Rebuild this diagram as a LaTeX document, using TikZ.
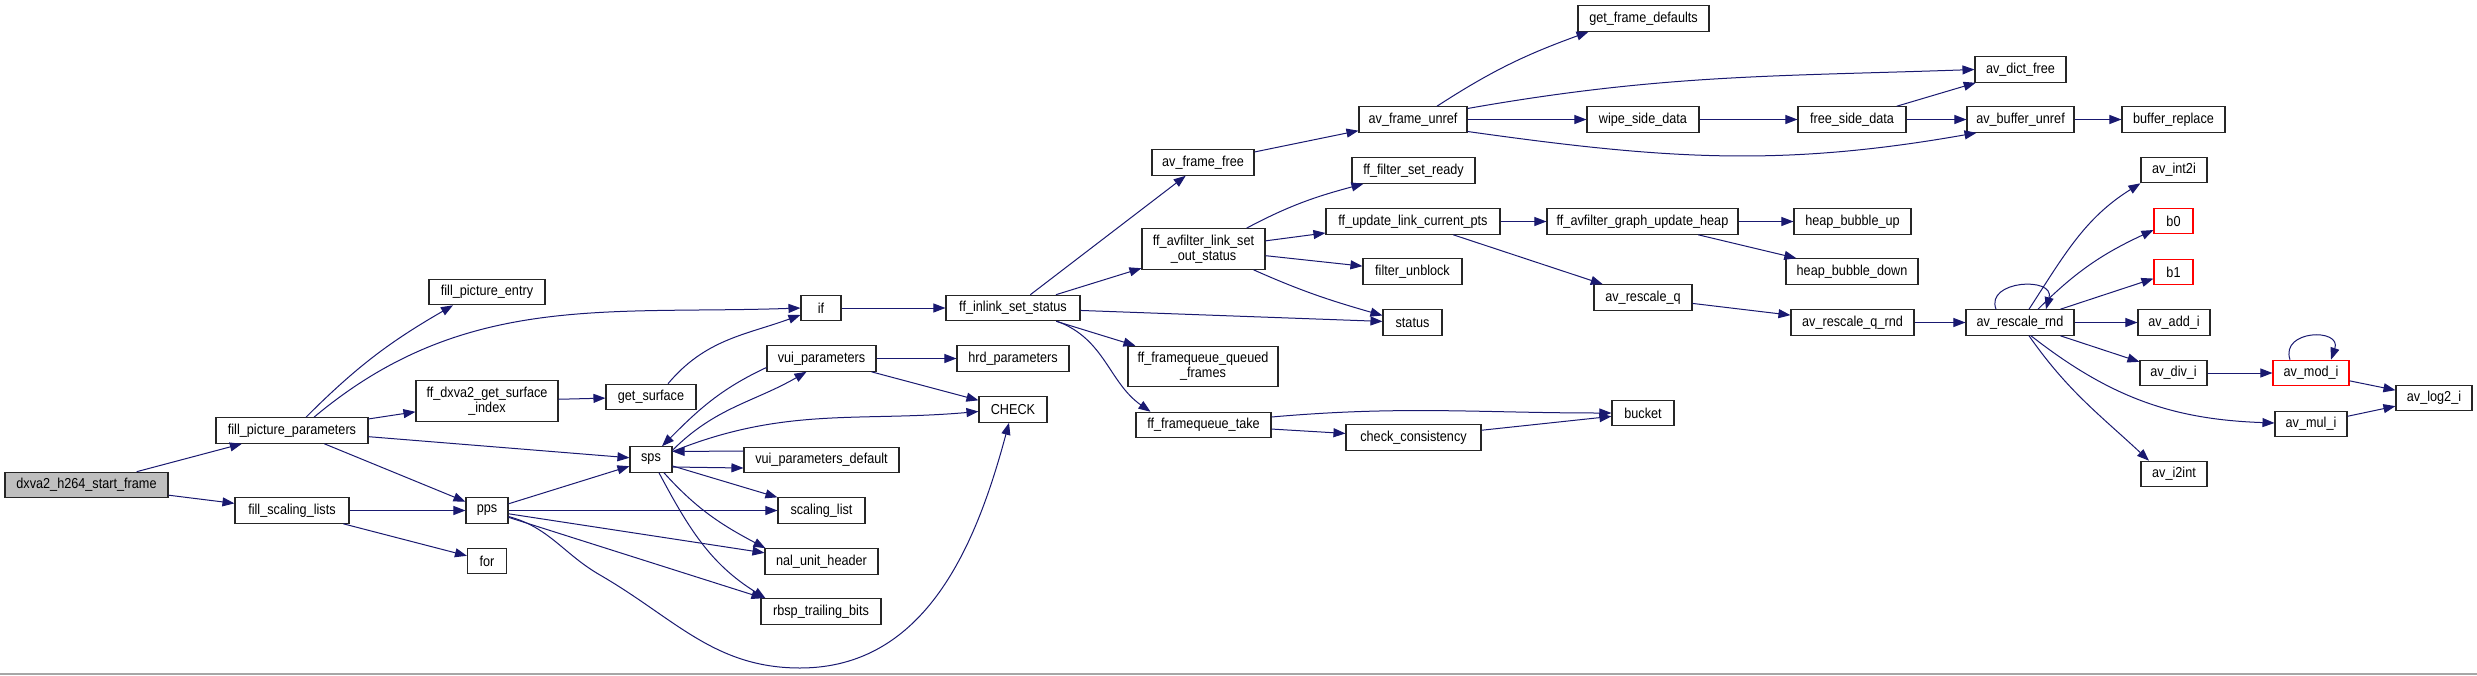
\documentclass[tikz,border=0pt]{standalone}
\usepackage{fontspec}
\setmainfont{Liberation Sans}[FakeStretch=0.88]
\usepackage{xcolor}
\usetikzlibrary{arrows.meta}
\definecolor{edgeblue}{HTML}{191970}
\definecolor{rootgray}{HTML}{BFBFBF}

\begin{document}
\begin{tikzpicture}[x=1pt,y=1pt,
    fn/.style={draw=black!85,line width=1.1pt,fill=white,minimum height=25.5,inner sep=2pt,align=center,font=\fontsize{14.4}{15}\selectfont},
    root/.style={fn,fill=rootgray},
    trunc/.style={fn,draw=red},
    two/.style={minimum height=40.5},
    arr/.style={-{Triangle[length=12pt,width=9pt]},draw=edgeblue,line width=1pt}
]
\useasboundingbox (0,0) rectangle (2477,-675);
\fill[white] (0,0) rectangle (2477,-675);
\draw[black!35,line width=1.5pt] (0,-674) -- (2477,-674);

\node[root,minimum width=163] (start) at (86.5,-485) {dxva2\_h264\_start\_frame};
\node[fn,minimum width=152] (fpp) at (292,-430.5) {fill\_picture\_parameters};
\node[fn,minimum width=114] (fsl) at (292,-510.5) {fill\_scaling\_lists};
\node[fn,minimum width=116] (fpe) at (487,-292) {fill\_picture\_entry};
\node[fn,two,minimum width=142] (surfidx) at (487,-401) {ff\_dxva2\_get\_surface\\\_index};
\node[fn,minimum width=42] (pps) at (487,-510.5) {pps};
\node[fn,minimum width=39] (for) at (487,-561) {for};
\node[fn,minimum width=90] (getsurf) at (651,-397) {get\_surface};
\node[fn,minimum width=42] (sps) at (651,-459.5) {sps};
\node[fn,minimum width=40] (if) at (821,-308) {if};
\node[fn,minimum width=109] (vui) at (821.5,-358.5) {vui\_parameters};
\node[fn,minimum width=155] (vuidef) at (821.5,-460) {vui\_parameters\_default};
\node[fn,minimum width=87] (scl) at (821.5,-510.5) {scaling\_list};
\node[fn,minimum width=113] (nal) at (821.5,-561.5) {nal\_unit\_header};
\node[fn,minimum width=120] (rbsp) at (821,-611.5) {rbsp\_trailing\_bits};
\node[fn,minimum width=134] (inlink) at (1013,-308) {ff\_inlink\_set\_status};
\node[fn,minimum width=112] (hrd) at (1013,-358.5) {hrd\_parameters};
\node[fn,minimum width=68] (check) at (1013,-409.5) {CHECK};
\node[fn,minimum width=102] (frfree) at (1203,-162.5) {av\_frame\_free};
\node[fn,two,minimum width=123] (setout) at (1203.5,-249) {ff\_avfilter\_link\_set\\\_out\_status};
\node[fn,two,minimum width=150] (queued) at (1203,-366.5) {ff\_framequeue\_queued\\\_frames};
\node[fn,minimum width=135] (take) at (1203.5,-425) {ff\_framequeue\_take};
\node[fn,minimum width=108] (unref) at (1413,-119.5) {av\_frame\_unref};
\node[fn,minimum width=123] (setready) at (1413.5,-170.5) {ff\_filter\_set\_ready};
\node[fn,minimum width=174] (updpts) at (1413,-221.5) {ff\_update\_link\_current\_pts};
\node[fn,minimum width=99] (unblock) at (1412.5,-271.5) {filter\_unblock};
\node[fn,minimum width=59] (status) at (1412.5,-322.5) {status};
\node[fn,minimum width=135] (consist) at (1413.5,-437.5) {check\_consistency};
\node[fn,minimum width=131] (getdef) at (1643.5,-18.5) {get\_frame\_defaults};
\node[fn,minimum width=112] (wipe) at (1643,-119.5) {wipe\_side\_data};
\node[fn,minimum width=191] (heap) at (1642.5,-221.5) {ff\_avfilter\_graph\_update\_heap};
\node[fn,minimum width=98] (rescq) at (1643,-297.5) {av\_rescale\_q};
\node[fn,minimum width=62] (bucket) at (1643,-413) {bucket};
\node[fn,minimum width=108] (freeside) at (1852,-119.5) {free\_side\_data};
\node[fn,minimum width=117] (bubup) at (1852.5,-221.5) {heap\_bubble\_up};
\node[fn,minimum width=132] (bubdown) at (1852,-271.5) {heap\_bubble\_down};
\node[fn,minimum width=123] (rescqrnd) at (1852.5,-322.5) {av\_rescale\_q\_rnd};
\node[fn,minimum width=91] (dictfree) at (2020.5,-69.5) {av\_dict\_free};
\node[fn,minimum width=107] (bufunref) at (2020.5,-119.5) {av\_buffer\_unref};
\node[fn,minimum width=108] (rescrnd) at (2020,-322.5) {av\_rescale\_rnd};
\node[fn,minimum width=103] (bufrepl) at (2173.5,-119.5) {buffer\_replace};
\node[fn,minimum width=66] (int2i) at (2174,-170) {av\_int2i};
\node[trunc,minimum width=39] (b0) at (2173.5,-221) {b0};
\node[trunc,minimum width=39] (b1) at (2173.5,-272) {b1};
\node[fn,minimum width=72] (addi) at (2174,-322.5) {av\_add\_i};
\node[fn,minimum width=67] (divi) at (2173.5,-373) {av\_div\_i};
\node[fn,minimum width=66] (i2int) at (2174,-474) {av\_i2int};
\node[trunc,minimum width=76] (modi) at (2311,-373) {av\_mod\_i};
\node[fn,minimum width=72] (muli) at (2311,-424) {av\_mul\_i};
\node[fn,minimum width=76] (log2i) at (2434,-398) {av\_log2\_i};

\draw[arr] (start) -- (fpp);
\draw[arr] (start) -- (fsl);
\draw[arr] ([xshift=14]fpp.north) to[out=45,in=210] ([xshift=-34]fpe.south);
\draw[arr] ([xshift=22]fpp.north) to[out=40,in=182] (if.west);
\draw[arr] (fpp) -- (surfidx);
\draw[arr] (fpp) -- (sps);
\draw[arr] (fpp) -- (pps);
\draw[arr] (fsl) -- (pps);
\draw[arr] (fsl) -- (for);
\draw[arr] (surfidx) -- (getsurf);
\draw[arr] ([xshift=17]getsurf.north) to[out=50,in=200] ([yshift=-7]if.west);
\draw[arr] (pps) -- (sps);
\draw[arr] (pps) -- (scl);
\draw[arr] (pps) -- (nal);
\draw[arr] (pps) -- ([xshift=3]rbsp.north west);
\draw[arr] ([yshift=-6]pps.east) to[out=-15,in=150] (600,-575) to[out=-30,in=180] (800,-668) to[out=0,in=-105] ([xshift=-4]check.south);
\draw[arr] ([yshift=-4]sps.north east) to[out=45,in=210] ([xshift=-15]vui.south);
\draw[arr] ([yshift=-9]vui.west) to[out=205,in=45] ([xshift=11]sps.north);
\draw[arr] ([yshift=8]sps.east) to[out=22,in=185] ([yshift=-2]check.west);
\draw[arr] ([yshift=9]vuidef.west) -- ([yshift=8]sps.east);
\draw[arr] ([yshift=-7.5]sps.east) -- ([yshift=-8]vuidef.west);
\draw[arr] (sps) -- (scl);
\draw[arr] ([xshift=13]sps.south) to[out=-48,in=152] ([xshift=1]nal.north west);
\draw[arr] ([xshift=8]sps.south) to[out=-62,in=148] ([xshift=5]rbsp.north west);
\draw[arr] (vui) -- (hrd);
\draw[arr] (vui) -- (check);
\draw[arr] (if) -- (inlink);
\draw[arr] (inlink) -- (frfree);
\draw[arr] (inlink) -- (setout);
\draw[arr] (inlink) -- (status);
\draw[arr] (inlink) -- (queued);
\draw[arr] ([xshift=44]inlink.south) to[out=-20,in=145] ([xshift=-53]take.north);
\draw[arr] (frfree) -- (unref);
\draw[arr] ([xshift=24]unref.north) to[out=33,in=200] ([xshift=-55]getdef.south);
\draw[arr] ([yshift=11]unref.east) to[out=10,in=182] (dictfree.west);
\draw[arr] (unref) -- (wipe);
\draw[arr] ([yshift=-12]unref.east) to[out=-8,in=190] ([xshift=-44]bufunref.south);
\draw[arr] (wipe) -- (freeside);
\draw[arr] (freeside) -- (dictfree);
\draw[arr] (freeside) -- (bufunref);
\draw[arr] (bufunref) -- (bufrepl);
\draw[arr] ([xshift=43]setout.north) to[out=28,in=195] ([xshift=12]setready.south west);
\draw[arr] (setout) -- (updpts);
\draw[arr] (setout) -- (unblock);
\draw[arr] ([xshift=50]setout.south) to[out=-24,in=164] ([yshift=7]status.west);
\draw[arr] (updpts) -- (heap);
\draw[arr] (updpts) -- (rescq);
\draw[arr] (heap) -- (bubup);
\draw[arr] (heap) -- (bubdown);
\draw[arr] (rescq) -- (rescqrnd);
\draw[arr] (rescqrnd) -- (rescrnd);
\draw[arr] ([yshift=8]take.east) to[out=5,in=180] (bucket.west);
\draw[arr] (take) -- (consist);
\draw[arr] (consist) -- (bucket);
\draw[arr] ([xshift=-24]rescrnd.north) .. controls +(-11,29) and +(9,33) .. ([xshift=26]rescrnd.north);
\draw[arr] ([xshift=9]rescrnd.north) to[out=57,in=212] (int2i.south west);
\draw[arr] ([xshift=18]rescrnd.north) to[out=45,in=205] ([yshift=-9]b0.west);
\draw[arr] (rescrnd) -- (b1);
\draw[arr] (rescrnd) -- (addi);
\draw[arr] (rescrnd) -- (divi);
\draw[arr] ([xshift=11]rescrnd.south) to[out=-38,in=178] ([yshift=1]muli.west);
\draw[arr] ([xshift=9]rescrnd.south) to[out=-55,in=137] ([xshift=-25]i2int.north);
\draw[arr] (divi) -- (modi);
\draw[arr] ([xshift=-21]modi.north) .. controls +(-10,30) and +(11,32) .. ([xshift=20]modi.north);
\draw[arr] (modi) -- (log2i);
\draw[arr] (muli) -- (log2i);
\end{tikzpicture}
\end{document}
